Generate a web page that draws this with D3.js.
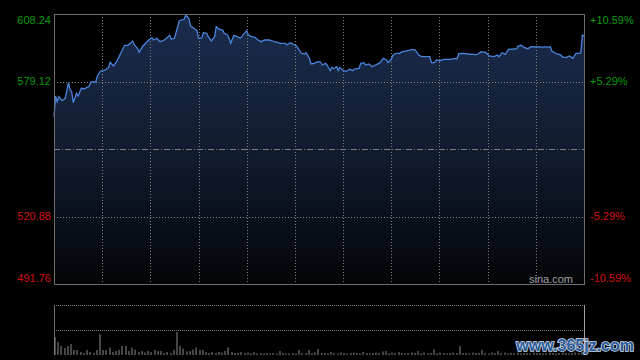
<!DOCTYPE html>
<html>
<head>
<meta charset="utf-8">
<script src="https://cdn.jsdelivr.net/npm/d3@7"></script>
<style>
  html, body { margin: 0; padding: 0; background: #000; }
  svg { display: block; }
  text { font-family: "Liberation Sans", Arial, sans-serif; }
</style>
</head>
<body>
<svg id="chart" width="640" height="360"></svg>
<script>
// minutes since open (HK session, 330 trading minutes) and last price
const mins = [0,1,2,3,5,7,8,9,10,11,12,14,15,17,19,22,23,26,27,29,32,34,35,37,39,40,42,44,46,49,
  50,52,53,55,57,59,61,62,64,66,68,70,72,73,75,77,78,81,82,84,85,87,89,90,92,93,95,96,98,100,
  101,103,105,106,108,109,110,112,114,116,118,120,121,123,125,127,129,131,134,137,139,141,144,145,147,149,151,152,154,156,
  157,159,160,162,164,166,167,169,170,172,173,174,176,177,178,180,182,184,186,187,190,191,193,194,196,198,199,201,203,205,
  207,208,210,211,213,215,217,221,223,225,227,229,231,234,235,237,238,240,243,247,250,251,252,255,258,261,263,264,266,269,
  271,274,276,277,279,281,283,286,288,289,291,293,295,297,300,302,304,306,307,309,310,313,315,317,319,321,323,325,327,328,
  329,330];
const prices = [563.93,572.86,570.41,572.56,570.84,571.87,575.45,578.60,575.45,574.72,569.97,574.03,572.86,576.19,576.01,577.18,578.90,578.90,581.49,583.65,
  584.08,585.25,587.40,585.81,587.66,589.13,591.98,594.74,594.74,596.59,594.87,593.44,591.72,594.13,595.60,597.02,598.02,597.02,597.76,596.29,
  596.72,597.76,599.05,597.33,597.76,602.76,605.35,605.95,607.68,606.38,603.06,602.07,601.04,597.76,597.89,600.17,599.91,598.45,596.59,598.45,
  602.76,601.64,601.34,599.91,599.18,597.76,595.60,599.05,598.45,597.76,599.48,601.04,599.18,598.45,598.19,597.02,596.29,597.02,597.02,596.29,
  596.03,595.60,595.60,594.87,595.86,595.17,594.43,593.44,591.29,590.98,591.54,589.13,586.67,586.97,587.66,587.53,586.24,586.97,586.24,583.78,
  585.25,584.64,585.50,583.78,585.25,583.78,583.52,584.38,583.78,584.51,584.81,586.97,587.23,586.24,586.67,585.50,585.81,586.54,587.23,589.13,
  588.40,587.23,588.70,590.42,591.29,591.29,591.98,592.58,593.01,592.71,590.55,589.82,589.82,589.82,587.23,587.23,588.40,588.09,588.70,588.70,
  589.13,588.96,591.11,591.29,590.98,590.85,590.68,590.98,591.98,591.54,590.12,589.82,590.55,589.82,591.54,590.85,593.01,593.14,593.27,594.43,
  594.74,593.70,593.27,594.13,594.00,594.13,593.87,594.13,593.87,594.13,592.28,590.98,590.68,589.56,589.56,590.12,589.13,591.29,591.29,591.54,
  599.18,598.75];

// volume every 2 minutes (relative units)
const volumes = [18,13,9,7,9,11,5,5,3,2,5,3,2,5,21,5,5,7.5,3,4,
  5,9,9,4,7.5,5.5,3,4,2.5,4,3,5,4,4,2,3,2,5,23,9,
  6.5,3.5,4,5.5,7.5,5,5,3,2,3,2,3,2.5,4,7.5,3,2,2,3,2,
  2.5,2,3,1.5,2,1.5,2,1.5,2,1.5,4,2,1.5,1.5,2,1.5,5,2,2,5,
  2,2.5,6,2,2,1.5,3,2,1.5,2.5,2,1.5,2,2.5,2,1.5,3,2,1.5,2,
  2.5,2,3.5,4,2,2.5,2,3,2,1.5,2,2.5,2,4,2,2.5,1.5,2,5.5,2,
  2.5,2,1.5,2,2.5,2,9,2,2,1.5,2.5,2,2,5,2,1.5,2.5,2,4,2,
  2.5,1.5,2,2,2.5,1.5,2,2,1.5,2.5,2,2,1.5,2,2.5,2,1.5,2,2.5,2,
  1.5,2,2.5,2,3,5];

const prevClose = 550;
const priceTicks = [608.24, 579.12, 550, 520.88, 491.76];
const leftLabels = ["608.24", "579.12", "", "520.88", "491.76"];
const rightLabels = ["+10.59%", "+5.29%", "", "-5.29%", "-10.59%"];

const svg = d3.select("#chart");
const plot = { left: 54, right: 584, top: 14, bottom: 284 };
const vol = { top: 305, bottom: 355 };

const x = d3.scaleLinear().domain([0, 330]).range([plot.left, plot.right]);
const y = d3.scaleLinear().domain([491.76, 608.24]).range([plot.bottom, plot.top]);
const yv = d3.scaleLinear().domain([0, 50]).range([vol.bottom, vol.top]);

// gradient for the area
const defs = svg.append("defs");
const grad = defs.append("linearGradient")
    .attr("id", "areaFill")
    .attr("gradientUnits", "userSpaceOnUse")
    .attr("x1", 0).attr("y1", plot.top).attr("x2", 0).attr("y2", plot.bottom);
grad.append("stop").attr("offset", "0%").attr("stop-color", "#1b2c4e");
grad.append("stop").attr("offset", "55%").attr("stop-color", "#101a2c");
grad.append("stop").attr("offset", "100%").attr("stop-color", "#040508");

const series = mins.map((m, i) => ({ m: m, p: prices[i] }));

svg.append("path")
    .datum(series)
    .attr("fill", "url(#areaFill)")
    .attr("d", d3.area().x(d => x(d.m)).y0(plot.bottom).y1(d => y(d.p)));

// vertical grid every 30 minutes
const gx = d3.range(30, 330, 30);
svg.append("g").selectAll("line").data(gx).enter().append("line")
    .attr("x1", d => Math.round(x(d)) + 0.5).attr("x2", d => Math.round(x(d)) + 0.5)
    .attr("y1", plot.top).attr("y2", plot.bottom)
    .attr("stroke", "#808080").attr("stroke-width", 1)
    .attr("stroke-dasharray", "1,2");

// horizontal grid
svg.append("g").selectAll("line").data(priceTicks.slice(1, 4)).enter().append("line")
    .attr("x1", plot.left).attr("x2", plot.right)
    .attr("y1", d => Math.round(y(d)) + 0.5).attr("y2", d => Math.round(y(d)) + 0.5)
    .attr("stroke", "#808080").attr("stroke-width", 1)
    .attr("stroke-dasharray", d => d === prevClose ? "6,2,1,2" : "1,2");

// price line
svg.append("path")
    .datum(series)
    .attr("fill", "none")
    .attr("stroke", "#4a84dc")
    .attr("stroke-width", 1.3)
    .attr("d", d3.line().x(d => x(d.m)).y(d => y(d.p)));

// frame
svg.append("rect")
    .attr("x", plot.left + 0.5).attr("y", plot.top + 0.5)
    .attr("width", plot.right - plot.left).attr("height", plot.bottom - plot.top)
    .attr("fill", "none").attr("stroke", "#6e6e6e");

// axis labels
const labelY = v => Math.min(Math.max(y(v), 20), 278);
const colorOf = v => v > prevClose ? "#0a9a0a" : "#d41010";
svg.append("g").selectAll("text").data(priceTicks).enter().append("text")
    .attr("x", 51).attr("y", labelY).attr("dy", "0.35em")
    .attr("text-anchor", "end").attr("font-size", 11)
    .attr("fill", colorOf)
    .text((d, i) => leftLabels[i]);
svg.append("g").selectAll("text").data(priceTicks).enter().append("text")
    .attr("x", 590).attr("y", labelY).attr("dy", "0.35em")
    .attr("text-anchor", "start").attr("font-size", 11)
    .attr("fill", colorOf)
    .text((d, i) => rightLabels[i]);

svg.append("text")
    .attr("x", 573).attr("y", 283)
    .attr("text-anchor", "end").attr("font-size", 11)
    .attr("fill", "#a0a0a0")
    .text("sina.com");

// volume panel
svg.append("g").selectAll("line").data([vol.top, (vol.top + vol.bottom) / 2]).enter().append("line")
    .attr("x1", plot.left).attr("x2", plot.right)
    .attr("y1", d => Math.round(d) + 0.5).attr("y2", d => Math.round(d) + 0.5)
    .attr("stroke", "#808080").attr("stroke-dasharray", "1,1");
svg.append("line")
    .attr("x1", plot.left + 0.5).attr("x2", plot.left + 0.5)
    .attr("y1", vol.top).attr("y2", vol.bottom)
    .attr("stroke", "#6e6e6e");
svg.append("line")
    .attr("x1", plot.right + 0.5).attr("x2", plot.right + 0.5)
    .attr("y1", vol.top).attr("y2", vol.bottom)
    .attr("stroke", "#a0a0a0");

svg.append("g").selectAll("rect").data(volumes).enter().append("rect")
    .attr("x", (d, i) => Math.round(x(i * 2)) + 0.5)
    .attr("y", d => yv(d))
    .attr("width", 1)
    .attr("height", d => vol.bottom - yv(d))
    .attr("fill", "#8a8a8a");

// watermark
svg.append("text")
    .attr("x", 634).attr("y", 351)
    .attr("text-anchor", "end")
    .attr("font-size", 16).attr("font-weight", "bold")
    .attr("font-family", "'DejaVu Sans', sans-serif")
    .attr("fill", "#2a5d9c")
    .attr("stroke", "#d0dae8").attr("stroke-width", 1.6)
    .attr("paint-order", "stroke")
    .text("www.365jz.com");
</script>
</body>
</html>
